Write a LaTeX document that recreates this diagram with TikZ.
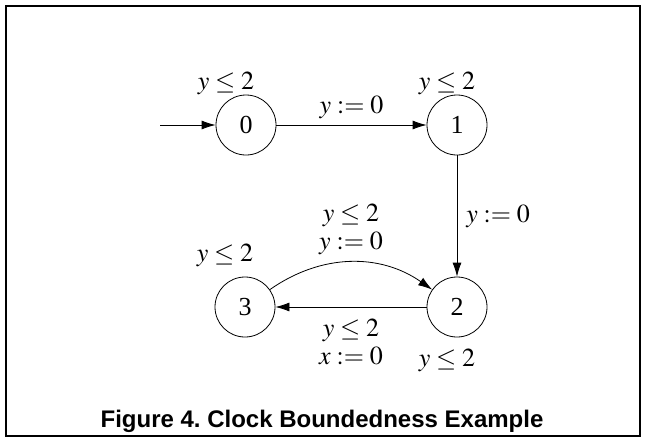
\documentclass[tikz,border=0pt]{standalone}
\usepackage{mathptmx}
\usepackage{fontspec}
\setmainfont{Liberation Serif}
\newfontfamily\capfont{Liberation Sans}
\usetikzlibrary{arrows.meta}

\begin{document}
\begin{tikzpicture}[
  x=1pt,y=-1pt,
  >={Latex[length=14pt,width=9pt]},
  font=\fontsize{26}{28}\selectfont,
  loc/.style={circle,draw,line width=0.8pt,minimum size=60pt,inner sep=0pt},
  trans/.style={->,line width=0.8pt},
  inv/.style={inner sep=1pt},
  act/.style={align=center,inner sep=1pt}
]
  \useasboundingbox (0,0) rectangle (645,440);
  \draw[line width=2pt] (6,6) rectangle (640,436);
  % locations
  \node[loc] (l0) at (246,125) {0};
  \node[loc] (l1) at (457,125) {1};
  \node[loc] (l2) at (457,307) {2};
  \node[loc] (l3) at (245,307) {3};
  % invariants
  \node[inv] (inv0) at (226,83) {$y\leq 2$};
  \node[inv] (inv1) at (447,83) {$y\leq 2$};
  \node[inv] (inv2) at (447,360) {$y\leq 2$};
  \node[inv] (inv3) at (225,255) {$y\leq 2$};
  % transitions
  \coordinate (init) at (160,125);
  \draw[trans] (init) -- (l0);
  \draw[trans] (l0) -- node[act,above=5pt] {$y:=0$} (l1);
  \draw[trans] (l1) -- node[act,right=8pt] {$y:=0$} (l2);
  \draw[trans] (l3) to[out=35,in=145]
    node[act,above=6pt] {$y\leq 2$\\$y:=0$} (l2);
  \draw[trans] (l2) -- node[act,below=11pt] {$y\leq 2$\\$x:=0$} (l3);
  \node[font={\fontsize{24}{30}\selectfont\capfont\bfseries}] (cap) at (322,421)
    {Figure 4.\ Clock Boundedness Example};
\end{tikzpicture}
\end{document}
